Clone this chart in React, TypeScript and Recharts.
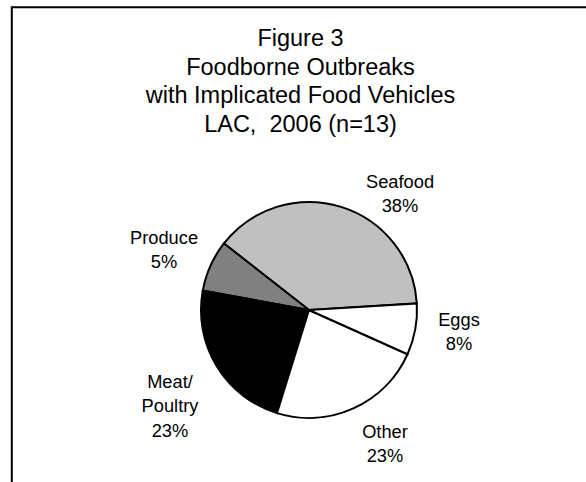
import React from "react";
import { PieChart, Pie, Cell } from "recharts";

const categories = ["Seafood", "Produce", "Meat/Poultry", "Other", "Eggs"];
const counts = [5, 1, 3, 3, 1];
const percentLabels = ["38%", "5%", "23%", "23%", "8%"];
const labelLines = [["Seafood"], ["Produce"], ["Meat/", "Poultry"], ["Other"], ["Eggs"]];
const sliceColors = ["#C0C0C0", "#808080", "#000000", "#FFFFFF", "#FFFFFF"];
const titleLines = ["Figure 3", "Foodborne Outbreaks", "with Implicated Food Vehicles", "LAC,\u00a0 2006 (n=13)"];

// label anchor positions (layout only)
const labelAnchors = [
  { x: 400, y: 181 },
  { x: 164, y: 237 },
  { x: 170, y: 381 },
  { x: 385, y: 431 },
  { x: 459, y: 319 },
];

const data = categories.map((c, i) => ({ name: c, value: counts[i] }));

const FONT = "'Liberation Sans', Arial, sans-serif";

const renderLabel = (props: any) => {
  const i = props.index;
  const a = labelAnchors[i];
  const lines = [...labelLines[i], percentLabels[i]];
  return (
    <text
      key={"lbl" + i}
      x={a.x}
      y={a.y}
      textAnchor="middle"
      fontFamily={FONT}
      fontSize={18.3}
      fill="#000"
    >
      {lines.map((l, k) => (
        <tspan key={k} x={a.x} y={a.y + k * 24.5} dominantBaseline="central">
          {l}
        </tspan>
      ))}
    </text>
  );
};

export default function App() {
  return (
    <div style={{ position: "absolute", left: 0, top: 0, width: 586, height: 482, background: "#fff", overflow: "hidden" }}>
      <div style={{ position: "absolute", left: 0, top: 0 }}>
        <PieChart width={586} height={482} margin={{ top: 0, right: 0, bottom: 0, left: 0 }}>
          <Pie
            data={data}
            dataKey="value"
            nameKey="name"
            cx={309}
            cy={310}
            outerRadius={108}
            startAngle={3.5}
            endAngle={363.5}
            stroke="#000"
            strokeWidth={2}
            label={renderLabel}
            labelLine={false}
            isAnimationActive={false}
          >
            {data.map((d, i) => (
              <Cell key={d.name} fill={sliceColors[i]} />
            ))}
          </Pie>
        </PieChart>
      </div>
      <svg width={586} height={482} style={{ position: "absolute", left: 0, top: 0, pointerEvents: "none" }}>
        <line x1={11.8} y1={7.3} x2={586} y2={7.3} stroke="#000" strokeWidth={2} />
        <line x1={11.8} y1={6.3} x2={11.8} y2={482} stroke="#000" strokeWidth={2} />
        {titleLines.map((t, k) => (
          <text
            key={k}
            x={300.5}
            y={46 + k * 28.6}
            textAnchor="middle"
            fontFamily={FONT}
            fontSize={23.5}
            fill="#000"
          >
            {t}
          </text>
        ))}
      </svg>
    </div>
  );
}
